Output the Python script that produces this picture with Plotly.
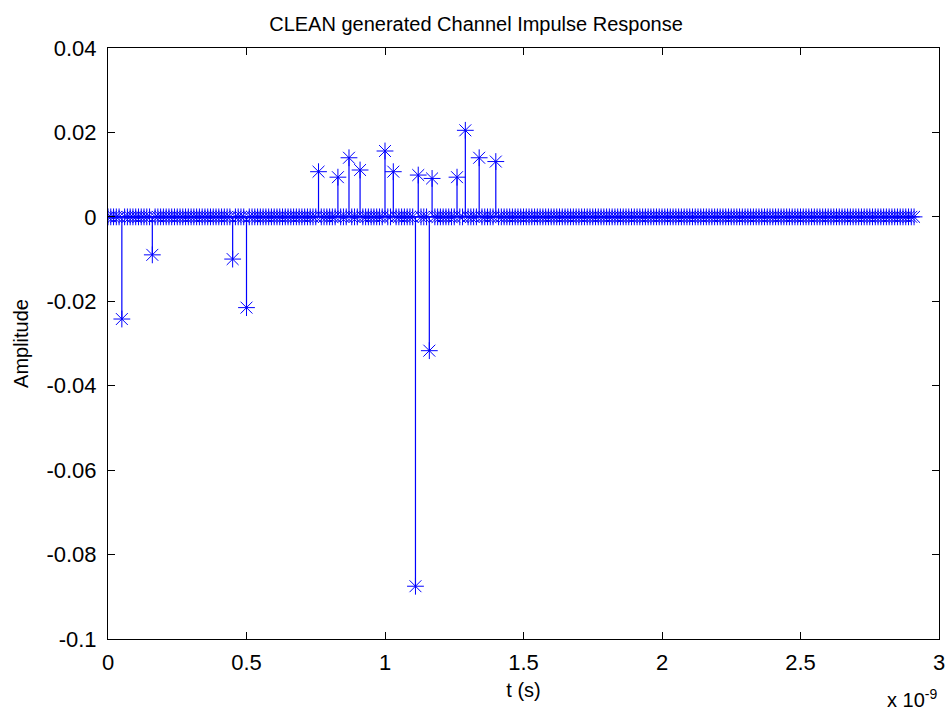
import numpy as np
import plotly.graph_objects as go

# Sampling grid of the impulse response (seconds)
t_step = 0.01e-9
n_samples = 292
t = np.round(np.arange(n_samples) * t_step, 14)

# Non-zero taps found by CLEAN (time in ns, amplitude)
tap_time_ns = [0.05, 0.16, 0.45, 0.50, 0.76, 0.83, 0.87, 0.91, 1.00, 1.03,
               1.11, 1.12, 1.16, 1.17, 1.26, 1.29, 1.34, 1.40]
tap_amp = [-0.0242, -0.0090, -0.0100, -0.0215, 0.0107, 0.0094, 0.0140, 0.0111,
           0.0156, 0.0107, -0.0875, 0.0099, -0.0317, 0.0091, 0.0094, 0.0205,
           0.0140, 0.0131]

# Axis tick labels
x_ticks = [0, 0.5e-9, 1.0e-9, 1.5e-9, 2.0e-9, 2.5e-9, 3.0e-9]
x_tick_text = ["0", "0.5", "1", "1.5", "2", "2.5", "3"]
y_ticks = [-0.1, -0.08, -0.06, -0.04, -0.02, 0, 0.02, 0.04]
y_tick_text = ["-0.1", "-0.08", "-0.06", "-0.04", "-0.02", "0", "0.02", "0.04"]

# Full amplitude vector: zero everywhere except the taps
h = np.zeros(n_samples)
for tn, a in zip(tap_time_ns, tap_amp):
    idx = int(round(tn * 1e-9 / t_step))
    h[idx] = a

# Stem lines (vertical segments separated by None)
stem_x, stem_y = [], []
for ti, hi in zip(t, h):
    if hi != 0:
        stem_x += [ti, ti, None]
        stem_y += [0, hi, None]

BLUE = "#0000ff"
FONT = "Liberation Sans, Arial, sans-serif"

fig = go.Figure()
fig.add_trace(go.Scatter(x=stem_x, y=stem_y, mode="lines",
                         line=dict(color=BLUE, width=1.2), hoverinfo="skip",
                         showlegend=False))
fig.add_trace(go.Scatter(x=t, y=h, mode="markers",
                         marker=dict(symbol="asterisk-open", size=14, color=BLUE,
                                     line=dict(color=BLUE, width=1)),
                         showlegend=False))

fig.update_layout(
    width=952, height=713,
    margin=dict(l=108, r=13, t=48, b=74, autoexpand=False),
    paper_bgcolor="white", plot_bgcolor="white",
    font=dict(family=FONT, size=22, color="black"),
    title=dict(text="CLEAN generated Channel Impulse Response",
               font=dict(size=20), x=0.5, xanchor="center",
               y=1 - 24 / 713, yanchor="middle"),
    xaxis=dict(range=[0, 3e-9], tickvals=x_ticks, ticktext=x_tick_text,
               ticks="inside", ticklen=7, tickcolor="black",
               showline=True, linecolor="black", linewidth=1, mirror="ticks",
               showgrid=False, zeroline=False, ticklabelstandoff=4,
               automargin=False,
               title=dict(text="t (s)", font=dict(size=20), standoff=8)),
    yaxis=dict(range=[-0.1, 0.04], tickvals=y_ticks, ticktext=y_tick_text,
               ticks="inside", ticklen=7, tickcolor="black",
               showline=True, linecolor="black", linewidth=1, mirror="ticks",
               showgrid=False, zeroline=False, ticklabelstandoff=6,
               automargin=False,
               title=dict(text="Amplitude", font=dict(size=20), standoff=12)),
    annotations=[dict(text="x 10<sup>-9</sup>", xref="paper", yref="paper",
                      x=1.0, y=-0.1, xanchor="right", yanchor="middle",
                      showarrow=False, font=dict(size=20))],
)

fig.write_html("out.html")
